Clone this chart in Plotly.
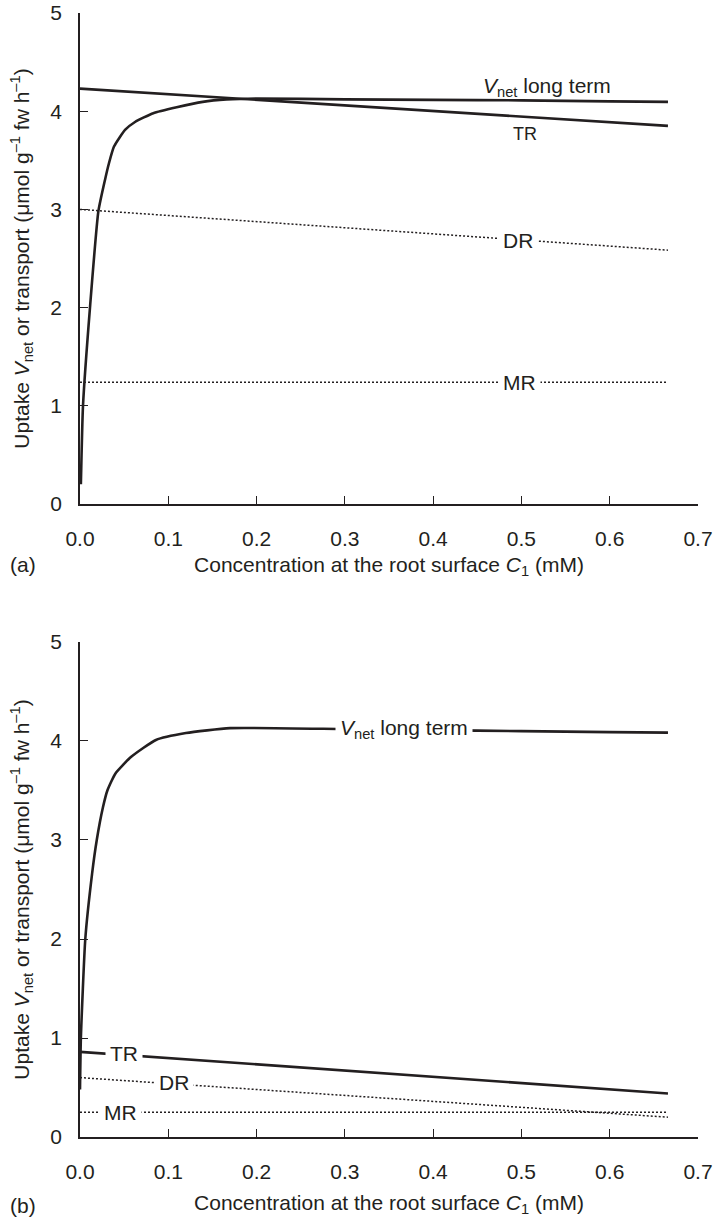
import plotly.graph_objects as go

# ---------------- Data ----------------
# Panel (a)
a_vnet_x = [0.001, 0.0034, 0.0113, 0.0208, 0.0283, 0.0328, 0.0385, 0.051, 0.0623, 0.083, 0.1095, 0.139, 0.166, 0.2, 0.3, 0.4, 0.5, 0.6, 0.666]
a_vnet_y = [0.2, 1.0, 2.0, 2.98, 3.30, 3.47, 3.64, 3.81, 3.89, 3.98, 4.04, 4.095, 4.12, 4.13, 4.12, 4.115, 4.11, 4.10, 4.095]
a_tr_x = [0.0, 0.666]
a_tr_y = [4.23, 3.85]
a_dr_x = [0.0, 0.666]
a_dr_y = [3.0, 2.585]
a_mr_x = [0.0, 0.666]
a_mr_y = [1.24, 1.24]

# Panel (b)
b_vnet_x = [0.0, 0.001, 0.006, 0.0137, 0.019, 0.026, 0.031, 0.040, 0.058, 0.086, 0.12, 0.17, 0.3, 0.4, 0.5, 0.6, 0.666]
b_vnet_y = [0.48, 1.0, 2.0, 2.66, 3.0, 3.33, 3.50, 3.67, 3.84, 4.01, 4.08, 4.13, 4.12, 4.11, 4.10, 4.09, 4.085]
b_tr_x = [0.0, 0.666]
b_tr_y = [0.86, 0.44]
b_dr_x = [0.0, 0.666]
b_dr_y = [0.60, 0.20]
b_mr_x = [0.0, 0.666]
b_mr_y = [0.25, 0.25]

x_ticks = [0.0, 0.1, 0.2, 0.3, 0.4, 0.5, 0.6, 0.7]
x_ticklabels = ["0.0", "0.1", "0.2", "0.3", "0.4", "0.5", "0.6", "0.7"]
y_ticks = [0, 1, 2, 3, 4, 5]

INK = "#231f20"
FONT = "Liberation Sans, Arial, Helvetica, sans-serif"
FS = 21

fig = go.Figure()

def solid(x, y, xa, ya):
    fig.add_trace(go.Scatter(x=x, y=y, mode="lines", xaxis=xa, yaxis=ya,
                             line=dict(color=INK, width=2.6, shape="spline", smoothing=0.5),
                             showlegend=False, hoverinfo="skip"))

def dotted(x, y, xa, ya):
    fig.add_trace(go.Scatter(x=x, y=y, mode="lines", xaxis=xa, yaxis=ya,
                             line=dict(color=INK, width=1.5, dash="2px,2px"),
                             showlegend=False, hoverinfo="skip"))

dotted(a_dr_x, a_dr_y, "x", "y")
dotted(a_mr_x, a_mr_y, "x", "y")
solid(a_tr_x, a_tr_y, "x", "y")
solid(a_vnet_x, a_vnet_y, "x", "y")

dotted(b_dr_x, b_dr_y, "x2", "y2")
dotted(b_mr_x, b_mr_y, "x2", "y2")
solid(b_tr_x, b_tr_y, "x2", "y2")
solid(b_vnet_x, b_vnet_y, "x2", "y2")

xtitle = "Concentration at the root surface <i>C</i><sub>1</sub> (mM)"
ytitle = "Uptake <i>V</i><sub>net</sub> or transport (μmol g<sup>–1</sup> fw h<sup>–1</sup>)"

def xaxis_cfg(anchor, standoff):
    return dict(range=[0, 0.7], tickvals=x_ticks, ticktext=x_ticklabels, ticks="inside", ticklen=8,
                tickwidth=1.3, tickcolor=INK, showline=True, linecolor=INK, linewidth=1.5,
                showgrid=False, zeroline=False, anchor=anchor, ticklabelstandoff=15,
                automargin=False, ticklabeloverflow="allow",
                tickfont=dict(size=FS, color=INK, family=FONT),
                title=dict(text=xtitle, font=dict(size=FS, color=INK, family=FONT), standoff=standoff))

def yaxis_cfg(anchor, domain):
    return dict(range=[0, 5], tickvals=y_ticks, ticks="inside", ticklen=8, tickwidth=1.3,
                tickcolor=INK, showline=True, linecolor=INK, linewidth=1.5, showgrid=False,
                zeroline=False, anchor=anchor, domain=domain, ticklabelstandoff=12,
                automargin=False, ticklabeloverflow="allow",
                tickfont=dict(size=FS, color=INK, family=FONT),
                title=dict(text=ytitle, font=dict(size=21, color=INK, family=FONT), standoff=15))

fig.update_layout(
    width=713, height=1217,
    margin=dict(l=80, r=15, t=13, b=80),
    paper_bgcolor="white", plot_bgcolor="white",
    font=dict(family=FONT, color=INK, size=FS),
    xaxis=xaxis_cfg("y", 8),
    yaxis=yaxis_cfg("x", [0.5632, 1.0]),
    xaxis2=xaxis_cfg("y2", 15),
    yaxis2=yaxis_cfg("x2", [0.0, 0.4404]),
)

def label(text, x, y, xref, yref, bg=True, size=FS):
    fig.add_annotation(text=text, x=x, y=y, xref=xref, yref=yref, showarrow=False,
                       font=dict(size=size, color=INK, family=FONT),
                       bgcolor="white" if bg else None, borderpad=4)

# Panel (a) labels
label("<i>V</i><sub>net</sub> long term", 0.529, 4.25, "x", "y", bg=False)
label("TR", 0.504, 3.77, "x", "y", bg=False, size=18)
label("DR", 0.496, 2.68, "x", "y")
label("MR", 0.498, 1.24, "x", "y")

# Panel (b) labels
label("<i>V</i><sub>net</sub> long term", 0.367, 4.12, "x2", "y2")
label("TR", 0.05, 0.84, "x2", "y2")
label("DR", 0.107, 0.55, "x2", "y2")
label("MR", 0.046, 0.25, "x2", "y2")

# Panel letters
fig.add_annotation(text="(a)", x=-0.116, y=0.5089, xref="paper", yref="paper", showarrow=False,
                   font=dict(size=FS, color=INK, family=FONT), xanchor="left", yanchor="middle")
fig.add_annotation(text="(b)", x=-0.116, y=-0.0605, xref="paper", yref="paper", showarrow=False,
                   font=dict(size=FS, color=INK, family=FONT), xanchor="left", yanchor="middle")

fig.write_html("out.html", config={"displayModeBar": False},
               post_script="document.body.style.margin='0';document.body.style.overflow='hidden';")
